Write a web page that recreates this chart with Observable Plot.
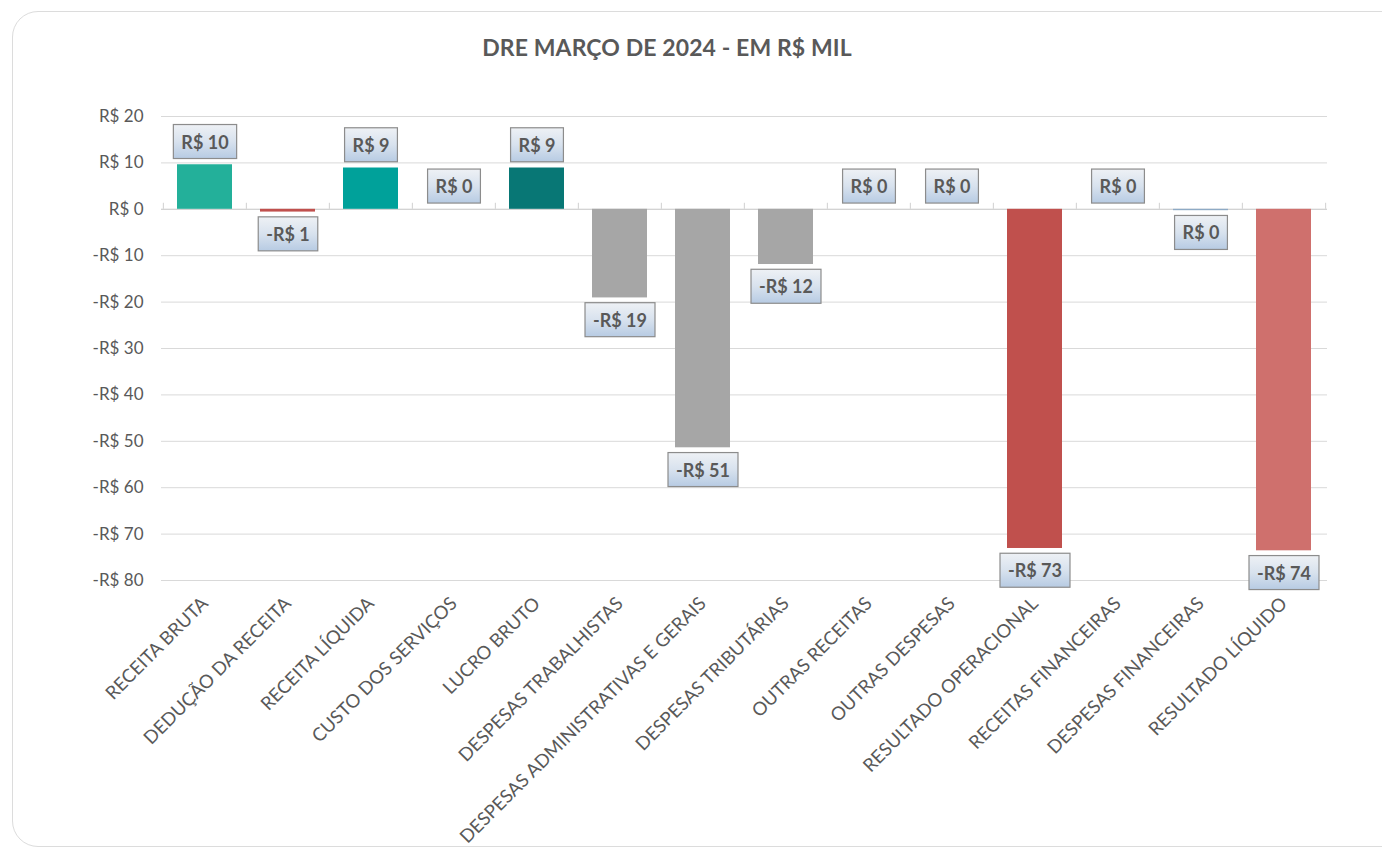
<!DOCTYPE html>
<html>
<head>
<meta charset="utf-8">
<script src="https://cdn.jsdelivr.net/npm/d3@7"></script>
<script src="https://cdn.jsdelivr.net/npm/@observablehq/plot@0.6"></script>
<style>
  html, body { margin: 0; padding: 0; background: #fff; width: 1382px; height: 851px; overflow: hidden; font-family: Lato, "Open Sans", sans-serif; }
  #card { position: absolute; left: 12px; top: 11px; width: 1420px; height: 836px; border: 1px solid #dcdcdc; border-radius: 26px; box-sizing: border-box; }
  #title { position: absolute; left: 0; width: 1334px; top: 33px; text-align: center; font-weight: 700; font-size: 23px; color: #595959; letter-spacing: 0.1px; }
  #chart { position: absolute; left: 0; top: 80px; }
</style>
</head>
<body>
<div id="card"></div>
<div id="title">DRE MARÇO DE 2024 - EM R$ MIL</div>
<div id="chart"></div>
<script>
const categories = [
  "RECEITA BRUTA", "DEDUÇÃO DA RECEITA", "RECEITA LÍQUIDA", "CUSTO DOS SERVIÇOS",
  "LUCRO BRUTO", "DESPESAS TRABALHISTAS", "DESPESAS ADMINISTRATIVAS E GERAIS",
  "DESPESAS TRIBUTÁRIAS", "OUTRAS RECEITAS", "OUTRAS DESPESAS",
  "RESULTADO OPERACIONAL", "RECEITAS FINANCEIRAS", "DESPESAS FINANCEIRAS", "RESULTADO LÍQUIDO"
];
const values = [9.6, -0.6, 8.9, 0, 8.9, -19.1, -51.4, -11.9, 0, 0, -73.1, 0, -0.3, -73.6];
const barColors = [
  "#23b09a", "#c0504d", "#00a19a", "#a6a6a6", "#087775", "#a6a6a6", "#a6a6a6",
  "#a6a6a6", "#a6a6a6", "#a6a6a6", "#c0504d", "#a6a6a6", "#8eaac5", "#cf706d"
];
const yTicks = [20, 10, 0, -10, -20, -30, -40, -50, -60, -70, -80];

const fmt = d => { const r = Math.round(d); return r < 0 ? "-R$ " + (-r) : "R$ " + Math.abs(r); };
const rows = categories.map((c, i) => ({cat: c, value: values[i], color: barColors[i], label: fmt(values[i])}));

const W = 1382, H = 771;
const chart = Plot.plot({
  width: W, height: H,
  marginTop: 36, marginBottom: 271, marginLeft: 161, marginRight: 55,
  style: { fontFamily: "Lato, 'Open Sans', sans-serif", color: "#595959", background: "transparent" },
  x: { domain: categories, paddingInner: 0.34, paddingOuter: 0.17, label: null },
  y: { domain: [-80, 20], ticks: yTicks, label: null },
  color: { type: "identity" },
  marks: [
    Plot.gridY(yTicks, { stroke: "#d9d9d9", strokeOpacity: 1 }),
    Plot.ruleY([0], { stroke: "#d0d0d0", strokeWidth: 1 }),
    Plot.ruleX(categories, { x: d => d, y1: 0, y2: 1.3, dx: -41.65, stroke: "#d0d0d0" }),
    Plot.ruleX(categories.slice(-1), { x: d => d, y1: 0, y2: 1.3, dx: 41.65, stroke: "#d0d0d0" }),
    Plot.barY(rows, { x: "cat", y: "value", fill: "color" }),
    Plot.axisY({ ticks: yTicks, tickSize: 0, tickPadding: 18, tickFormat: d => d < 0 ? "-R$ " + (-d) : "R$ " + d, fontSize: 17, fill: "#595959" }),
    Plot.axisX({ tickSize: 0, tickRotate: -45, tickPadding: 20, fontSize: 18.5, fill: "#595959" }),
    Plot.text(rows.filter(d => d.value >= 0), { x: "cat", y: "value", text: "label", dy: -22, fontSize: 18, fontWeight: 700, fill: "#595959", className: "lbl" }),
    Plot.text(rows.filter(d => d.value < 0), { x: "cat", y: "value", text: "label", dy: 23, fontSize: 18, fontWeight: 700, fill: "#595959", className: "lbl" })
  ]
});
document.getElementById("chart").appendChild(chart);

// label boxes drawn behind each data label, sized from the rendered text
const ns = "http://www.w3.org/2000/svg";
let defs = chart.querySelector("defs");
if (!defs) { defs = document.createElementNS(ns, "defs"); chart.insertBefore(defs, chart.firstChild); }
const grad = document.createElementNS(ns, "linearGradient");
grad.setAttribute("id", "lblgrad");
grad.setAttribute("x1", "0"); grad.setAttribute("y1", "0"); grad.setAttribute("x2", "0"); grad.setAttribute("y2", "1");
[["0", "#eef1f5"], ["0.5", "#d8e2ee"], ["1", "#b7cbe3"]].forEach(([o, c]) => {
  const s = document.createElementNS(ns, "stop"); s.setAttribute("offset", o); s.setAttribute("stop-color", c); grad.appendChild(s);
});
defs.appendChild(grad);
chart.querySelectorAll(".lbl text").forEach(t => {
  const b = t.getBBox();
  const r = document.createElementNS(ns, "rect");
  const h = 34, padX = 8;
  const cy = b.y + b.height / 2;
  r.setAttribute("x", b.x - padX);
  r.setAttribute("y", cy - h / 2);
  r.setAttribute("width", b.width + 2 * padX);
  r.setAttribute("height", h);
  r.setAttribute("fill", "url(#lblgrad)");
  r.setAttribute("stroke", "#8c8c8c");
  r.setAttribute("stroke-width", "1.2");
  if (t.getAttribute("transform")) r.setAttribute("transform", t.getAttribute("transform"));
  t.parentNode.insertBefore(r, t);
});
</script>
</body>
</html>
